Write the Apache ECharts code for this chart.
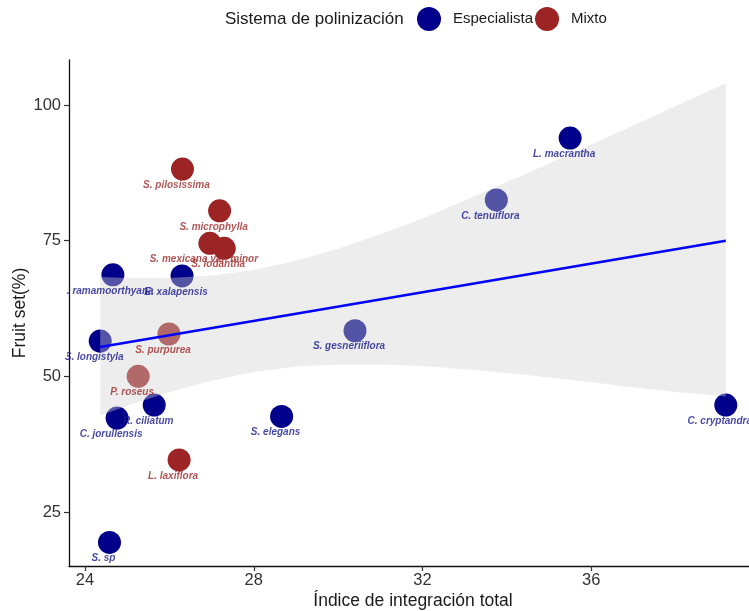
<!DOCTYPE html>
<html>
<head>
<meta charset="utf-8">
<script src="https://cdn.jsdelivr.net/npm/echarts@6/dist/echarts.min.js"></script>
<style>
  html, body { margin: 0; padding: 0; background: #ffffff; }
  #chart { width: 749px; height: 611px; }
</style>
</head>
<body>
<div id="chart"></div>
<script>
// Especies con sistema de polinización especialista
const especialistaNames = ['S. ramamoorthyana', 'S. longistyla', 'C. jorullensis', 'R. ciliatum', 'S. sp',
  'E. xalapensis', 'S. elegans', 'S. gesneriiflora', 'C. tenuiflora', 'L. macrantha', 'C. cryptandra'];
const especialistaIndice = [24.66, 24.36, 24.76, 25.64, 24.58, 26.30, 28.66, 30.40, 33.75, 35.50, 39.19];
const especialistaFruit = [68.7, 56.5, 42.3, 44.7, 19.4, 68.5, 42.6, 58.4, 82.5, 93.9, 44.7];

// Especies con sistema de polinización mixto
const mixtoNames = ['S. pilosissima', 'S. microphylla', 'S. mexicana var. minor', 'S. iodantha',
  'S. purpurea', 'P. roseus', 'L. laxiflora'];
const mixtoIndice = [26.31, 27.19, 26.96, 27.30, 25.99, 25.26, 26.23];
const mixtoFruit = [88.2, 80.5, 74.5, 73.6, 57.8, 50.0, 34.6];

// Recta de regresión lineal y su banda de confianza
const fitIndice = [24.36, 39.19];
const fitFruit = [55.4, 75.0];
const bandIndice = [24.36, 25, 26, 27, 28, 29, 30, 31, 32, 33, 34, 35, 36, 37, 38, 39.19];
const bandUpper = [68.3, 68.1, 68.1, 68.6, 69.6, 71.3, 73.5, 76.2, 79.1, 82.4, 85.8, 89.2, 92.7, 96.2, 99.8, 104.0];
const bandLower = [42.8, 44.6, 47.1, 49.2, 50.8, 51.8, 52.2, 52.2, 51.9, 51.3, 50.6, 49.8, 48.9, 48.0, 47.1, 46.3];

// Marcas de los ejes
const xTicks = [24, 28, 32, 36];
const yTicks = [25, 50, 75, 100];

const FONT = 'Liberation Sans, Arial, sans-serif';
const BLUE = '#00008B';
const RED = '#9C2424';

const pairs = (xs, ys) => xs.map((x, i) => [x, ys[i]]);
const named = (names, xs, ys) => names.map((n, i) => ({ name: n, value: [xs[i], ys[i]] }));

const chart = echarts.init(document.getElementById('chart'), null, { renderer: 'canvas' });

const labelSeries = (name, names, xs, ys, color) => ({
  name: name,
  type: 'scatter',
  z: 6,
  silent: true,
  symbolSize: 1,
  itemStyle: { color: 'transparent' },
  data: named(names, xs, ys),
  label: {
    show: true,
    position: 'inside',
    offset: [-6, 16],
    formatter: p => p.name,
    color: color,
    fontFamily: FONT,
    fontSize: 10,
    fontWeight: 'bold',
    fontStyle: 'italic'
  },
  emphasis: { disabled: true }
});

chart.setOption({
  animation: false,
  backgroundColor: '#ffffff',
  grid: { left: 69, top: 60, width: 688, height: 506, containLabel: false, outerBoundsMode: 'none' },
  legend: {
    data: ['Especialista', 'Mixto'],
    left: 417,
    top: 7,
    padding: 0,
    icon: 'circle',
    itemWidth: 24,
    itemHeight: 24,
    itemGap: 2,
    selectedMode: false,
    textStyle: { fontFamily: FONT, fontSize: 15, color: '#1a1a1a', padding: [0, 0, 0, 7] }
  },
  graphic: [
    {
      type: 'text',
      x: 225,
      y: 19,
      style: { text: 'Sistema de polinización', fontFamily: FONT, fontSize: 17, fill: '#1a1a1a', verticalAlign: 'middle' }
    },
    // recorte de las etiquetas en el borde izquierdo del panel
    { type: 'rect', z: 100, shape: { x: 38, y: 282, width: 29, height: 18 }, style: { fill: '#ffffff' } },
    { type: 'rect', z: 100, shape: { x: 38, y: 341, width: 29, height: 17 }, style: { fill: '#ffffff' } }
  ],
  xAxis: {
    type: 'value',
    min: 23.62,
    max: 39.93,
    name: 'Índice de integración total',
    nameLocation: 'middle',
    nameGap: 26,
    nameMoveOverlap: false,
    nameTextStyle: { fontFamily: FONT, fontSize: 17.5, color: '#1a1a1a' },
    axisLine: { show: true, onZero: false, lineStyle: { color: '#111', width: 1.3 } },
    axisTick: { show: true, length: 5, customValues: xTicks, lineStyle: { color: '#333', width: 1.2 } },
    axisLabel: { customValues: xTicks, margin: 6, fontFamily: FONT, fontSize: 16.5, color: '#333' },
    splitLine: { show: false }
  },
  yAxis: {
    type: 'value',
    min: 15.05,
    max: 108.29,
    name: 'Fruit set(%)',
    nameLocation: 'middle',
    nameGap: 40,
    nameRotate: 90,
    nameMoveOverlap: false,
    nameTextStyle: { fontFamily: FONT, fontSize: 17.5, color: '#1a1a1a' },
    axisLine: { show: true, onZero: false, lineStyle: { color: '#111', width: 1.3 } },
    axisTick: { show: true, length: 5, customValues: yTicks, lineStyle: { color: '#333', width: 1.2 } },
    axisLabel: { customValues: yTicks, margin: 8, fontFamily: FONT, fontSize: 16.5, color: '#333' },
    splitLine: { show: false }
  },
  series: [
    {
      name: 'Especialista',
      type: 'scatter',
      z: 2,
      symbolSize: 23,
      itemStyle: { color: BLUE, opacity: 1 },
      data: pairs(especialistaIndice, especialistaFruit)
    },
    {
      name: 'Mixto',
      type: 'scatter',
      z: 2,
      symbolSize: 23,
      itemStyle: { color: RED, opacity: 1 },
      data: pairs(mixtoIndice, mixtoFruit)
    },
    {
      name: 'banda',
      type: 'custom',
      z: 3,
      silent: true,
      data: bandIndice.map((x, i) => [x, bandUpper[i], bandLower[i]]),
      encode: { x: 0, y: [1, 2] },
      renderItem: (params, api) => {
        if (params.dataIndex !== 0) return null;
        const pts = [];
        for (let i = 0; i < bandIndice.length; i++) pts.push(api.coord([bandIndice[i], bandUpper[i]]));
        for (let i = bandIndice.length - 1; i >= 0; i--) pts.push(api.coord([bandIndice[i], bandLower[i]]));
        return {
          type: 'polygon',
          shape: { points: pts },
          style: { fill: 'rgb(211,211,211)', opacity: 0.4 }
        };
      }
    },
    {
      name: 'ajuste',
      type: 'line',
      z: 4,
      silent: true,
      symbol: 'none',
      data: pairs(fitIndice, fitFruit),
      lineStyle: { color: '#0000FF', width: 2.6 }
    },
    labelSeries('etiquetas especialista', especialistaNames, especialistaIndice, especialistaFruit, '#18188C'),
    labelSeries('etiquetas mixto', mixtoNames, mixtoIndice, mixtoFruit, '#9E2B2B')
  ]
});
</script>
</body>
</html>
